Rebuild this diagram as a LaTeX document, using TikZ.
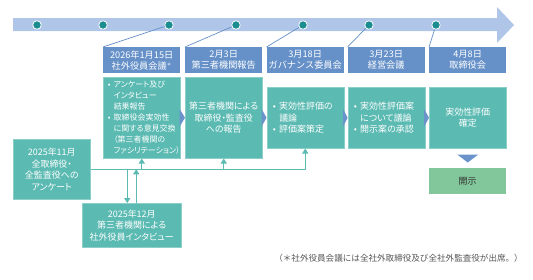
\documentclass[tikz,border=0pt]{standalone}
\usepackage{fontspec}
\setmainfont{Noto Sans CJK JP}
\newfontfamily\jpp[RawFeature=+palt]{Noto Sans CJK JP}
\usetikzlibrary{arrows.meta,calc}
\definecolor{bandblue}{HTML}{AFC6E9}
\definecolor{dotteal}{HTML}{1B8C8F}
\definecolor{hdrblue}{HTML}{6590C8}
\definecolor{bodyteal}{HTML}{5BBAB2}
\definecolor{trblue}{HTML}{6A93CC}
\definecolor{outgreen}{HTML}{82C79B}
\definecolor{notegray}{HTML}{555555}
\newcommand{\bl}{\makebox[6.5bp][l]{•}}
\newcommand{\ind}{\hspace*{6.5bp}}
\newcommand{\bls}{\makebox[6bp][l]{•}}
\newcommand{\inds}{\hspace*{6bp}}
\tikzset{
  band/.style={fill=bandblue},
  tdot/.style={circle, minimum size=8.5bp, inner sep=0pt, fill=dotteal, draw=white, line width=0.8bp},
  diag/.style={draw=hdrblue, line width=0.7bp},
  hdr/.style={anchor=north west, fill=hdrblue, text=white, minimum width=77bp, minimum height=26bp, inner sep=0pt, align=center, font=\fontsize{9.2}{11}\selectfont},
  bodybox/.style={anchor=north west, fill=bodyteal, draw=bodyteal!70!white, line width=0.5bp, text=white, minimum width=77bp, inner sep=0pt, font=\jpp\fontsize{9}{11.5}\selectfont},
  tri/.style={fill=trblue},
  conn/.style={draw=bodyteal, line width=1.2bp},
  arr/.style={conn, -{Triangle[width=6bp,length=5bp]}},
}
\begin{document}
\begin{tikzpicture}[x=1bp, y=-1bp]
\useasboundingbox (0,0) rectangle (533,279);
% timeline band
\fill[band] (13,18) -- (497,18) -- (497,7) -- (514,25) -- (497,43) -- (497,31) -- (13,31) -- cycle;
% dots
\node[tdot] (d1) at (37,25) {};
\node[tdot] (d2) at (103,25) {};
\node[tdot] (d3) at (169,25) {};
\node[tdot] (d4) at (236,25) {};
\node[tdot] (d5) at (303,25) {};
\node[tdot] (d6) at (369,25) {};
\node[tdot] (d7) at (436,25) {};
% headers
\node[hdr] (h1) at (103,47) {2026年1月15日\\社外役員会議\raisebox{2.5bp}{\fontsize{5}{5}\selectfont ＊}};
\node[hdr] (h2) at (185,47) {2月3日\\第三者機関報告};
\node[hdr] (h3) at (266.5,47) {3月18日\\ガバナンス委員会};
\node[hdr] (h4) at (347.5,47) {3月23日\\経営会議};
\node[hdr] (h5) at (429,47) {4月8日\\取締役会};
\draw[diag] (d3) -- (h1.north west);
\draw[diag] (d4) -- (h2.north west);
\draw[diag] (d5) -- (h3.north west);
\draw[diag] (d6) -- (h4.north west);
\draw[diag] (d7) -- (h5.north west);
% body boxes
\node[bodybox, minimum height=81bp, align=left, text width=68bp, inner xsep=4.5bp, font=\jpp\fontsize{8}{11}\selectfont] (b1) at (103,77)
  {\bls アンケート及び\\\inds インタビュー\\\inds 結果報告\\\bls 取締役会実効性\\\inds に関する意見交換\\\inds （第三者機関の\\\inds ファシリテーション）};
\node[bodybox, minimum height=81bp, align=center] (b2) at (185,77)
  {第三者機関による\\取締役・監査役\\への報告};
\node[bodybox, minimum height=61bp, align=left, text width=65bp, inner xsep=6bp] (b3) at (266.5,87)
  {\bl 実効性評価の\\\ind 議論\\\bl 評価案策定};
\node[bodybox, minimum height=61bp, align=left, text width=65bp, inner xsep=6bp] (b4) at (347.5,87)
  {\bl 実効性評価案\\\ind について議論\\\bl 開示案の承認};
\node[bodybox, minimum height=61bp, align=center] (b5) at (429,87)
  {実効性評価\\確定};
% triangles between body boxes
\foreach \a/\b in {b1/b2,b2/b3,b3/b4,b4/b5}{
  \fill[tri] ($(\a.east)+(-1,-9)$) -- ($(\a.east)+(-1,9)$) -- (\b.west |- \a.east) -- cycle;
}
% down triangle and outcome
\fill[tri] ([xshift=-10.5bp,yshift=-6bp]b5.south) -- ([xshift=10.5bp,yshift=-6bp]b5.south) -- ([yshift=-14bp]b5.south) -- cycle;
\node[anchor=north west, fill=outgreen, text=black!80, minimum width=77bp, minimum height=26bp, inner sep=0pt, font=\fontsize{9}{11}\selectfont] (out) at (429,168) {開示};
% survey and interview boxes
\node[bodybox, minimum width=77bp, minimum height=60bp, align=center] (q) at (13,139)
  {2025年11月\\全取締役・\\全監査役への\\アンケート};
\node[bodybox, minimum width=99bp, minimum height=44bp, align=center] (iv) at (82,203)
  {2025年12月\\第三者機関による\\社外役員インタビュー};
% connectors
\draw[arr] (q.east) -| (b3.south);
\draw[arr] (b1.south |- q.east) -- (b1.south);
\draw[arr] (b2.south |- q.east) -- (b2.south);
\draw[arr] ([xshift=-4.5bp]iv.north |- q.east) -- ([xshift=-4.5bp]iv.north);
\draw[arr] ([xshift=4.5bp]iv.north) -- ([xshift=4.5bp]iv.north |- q.east);
% footnote
\node[anchor=east, text=notegray, inner sep=0pt, font=\fontsize{8.6}{10}\selectfont] (note) at (523,258) {（＊社外役員会議には全社外取締役及び全社外監査役が出席。）};
\end{tikzpicture}
\end{document}
